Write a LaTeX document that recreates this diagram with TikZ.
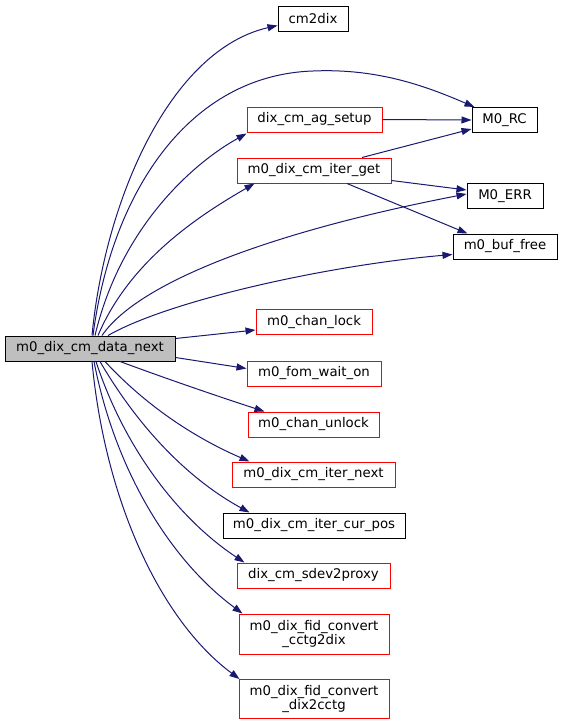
\documentclass[tikz,border=0pt]{standalone}
\usepackage{fontspec}
\setmainfont{DejaVu Sans}
\usetikzlibrary{arrows.meta}
\definecolor{edgec}{HTML}{191970}
\definecolor{boxred}{HTML}{FF0000}
\tikzset{
 box/.style={draw=black, line width=1pt, inner sep=0pt, font=\fontsize{13.3}{14.5}\selectfont, align=center, minimum height=25pt},
 redbox/.style={box, draw=boxred},
 edgeline/.style={draw=edgec, line width=1pt, -{Triangle[length=10pt,width=7pt]}},
}
\begin{document}
\begin{tikzpicture}[x=1pt,y=-1pt]
\useasboundingbox (0,0) rectangle (563,726);
\node[box, fill=gray!50, minimum width=170pt] (main) at (90,348.5) {m0\_dix\_cm\_data\_next};
\node[box, minimum width=70pt] (cm2dix) at (313,18.5) {cm2dix};
\node[box, minimum width=65pt] (rc) at (504.5,120) {M0\_RC};
\node[redbox, minimum width=135pt] (ag) at (314.5,119.5) {dix\_cm\_ag\_setup};
\node[redbox, minimum width=154pt] (iget) at (314,170.5) {m0\_dix\_cm\_iter\_get};
\node[box, minimum width=76pt] (err) at (505,196) {M0\_ERR};
\node[box, minimum width=104pt] (buf) at (505,246.5) {m0\_buf\_free};
\node[redbox, minimum width=116pt] (lock) at (314,322) {m0\_chan\_lock};
\node[redbox, minimum width=134pt] (fom) at (314,373.5) {m0\_fom\_wait\_on};
\node[redbox, minimum width=131pt] (unlock) at (313.5,424.5) {m0\_chan\_unlock};
\node[redbox, minimum width=163pt] (inext) at (313.5,474.5) {m0\_dix\_cm\_iter\_next};
\node[box, minimum width=182pt] (cpos) at (314,525.5) {m0\_dix\_cm\_iter\_cur\_pos};
\node[redbox, minimum width=153pt] (sdev) at (313.5,575.5) {dix\_cm\_sdev2proxy};
\node[redbox, minimum width=150pt, minimum height=40pt] (c2d) at (314,634) {m0\_dix\_fid\_convert\\\_cctg2dix};
\node[redbox, minimum width=150pt, minimum height=39pt] (d2c) at (314,699) {m0\_dix\_fid\_convert\\\_dix2cctg};

% upper edges
\draw[edgeline] ([xshift=2pt]main.north) .. controls (105,200) and (170,50) .. ([yshift=-7pt]cm2dix.west);
\draw[edgeline] ([xshift=3pt]main.north) .. controls (112,190) and (190,75) .. (313,71) .. controls (380,68) and (430,88) .. ([xshift=3pt]rc.north west);
\draw[edgeline] ([xshift=5pt]main.north) .. controls (120,230) and (190,165) .. ([yshift=-1pt]ag.south west);
\draw[edgeline] ([xshift=8pt]main.north) .. controls (130,260) and (200,215) .. ([xshift=18pt]iget.south west);
\draw[edgeline] ([xshift=12pt]main.north) .. controls (140,280) and (280,230) .. ([yshift=2pt]err.west);
\draw[edgeline] ([xshift=18pt]main.north) .. controls (170,300) and (330,265) .. ([yshift=-8pt]buf.west);
\draw[edgeline] (ag.east) -- (rc.west);
\draw[edgeline] ([xshift=48pt]iget.north) -- ([yshift=-9pt]rc.west);
\draw[edgeline] ([yshift=-10pt]iget.east) -- ([yshift=6pt]err.west);
\draw[edgeline] ([xshift=33pt]iget.south) -- ([xshift=15pt]buf.north west);
% lower edges
\draw[edgeline] ([yshift=10pt]main.east) -- ([yshift=-8pt]lock.west);
\draw[edgeline] ([yshift=-9pt]main.east) -- ([yshift=5pt]fom.west);
\draw[edgeline] ([xshift=30pt]main.south) .. controls (170,380) and (220,397) .. ([xshift=17pt]unlock.north west);
\draw[edgeline] ([xshift=15pt]main.south) .. controls (150,410) and (200,440) .. ([xshift=18pt]inext.north west);
\draw[edgeline] ([xshift=10pt]main.south) .. controls (140,430) and (190,480) .. ([xshift=27pt]cpos.north west);
\draw[edgeline] ([xshift=6pt]main.south) .. controls (125,450) and (180,520) .. ([xshift=8pt]sdev.north west);
\draw[edgeline] ([xshift=4pt]main.south) .. controls (115,470) and (170,560) .. ([xshift=4pt]c2d.north west);
\draw[edgeline] ([xshift=2pt]main.south) .. controls (105,500) and (160,620) .. ([xshift=1pt]d2c.north west);
\end{tikzpicture}
\end{document}
